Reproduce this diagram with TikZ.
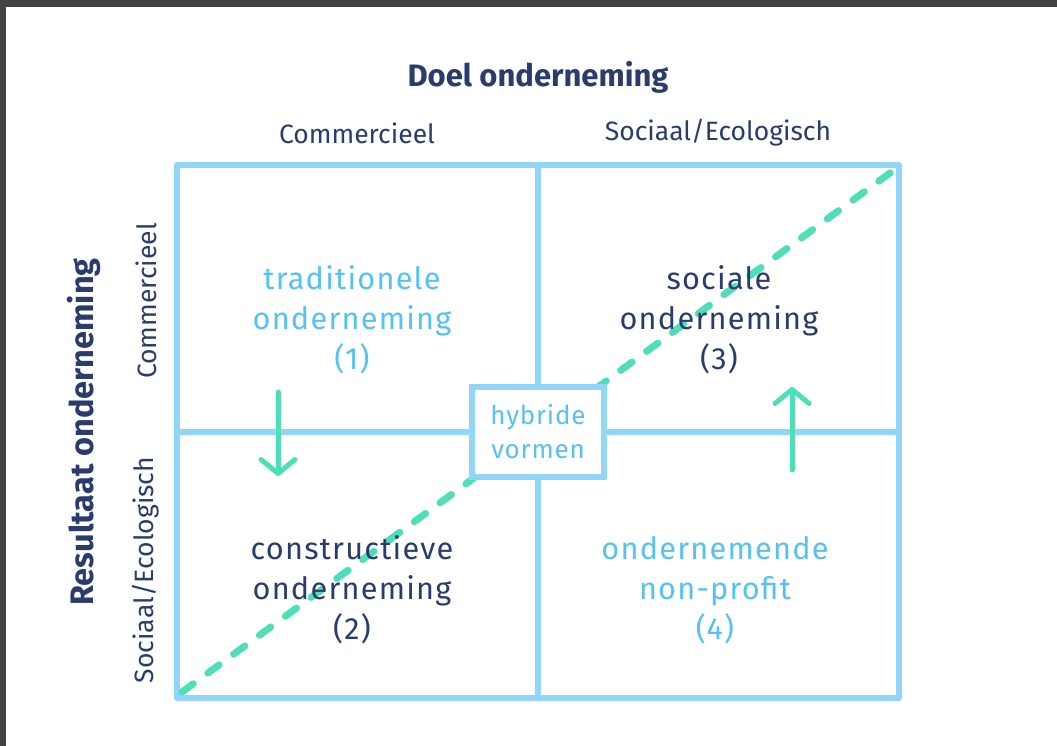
\documentclass[tikz,border=0pt]{standalone}
\usepackage{fontspec}
\setmainfont{Fira Sans}
\newfontfamily\qfont[LetterSpace=4]{Fira Sans}
\newfontfamily\hfont[LetterSpace=3]{Fira Sans}
\usetikzlibrary{arrows.meta}
\definecolor{navy}{HTML}{2A3B6E}
\definecolor{ltext}{HTML}{55C2F5}
\definecolor{lline}{HTML}{92D5FB}
\definecolor{grn}{HTML}{4DE0B8}
\definecolor{frame}{HTML}{424242}
\tikzset{
  grid/.style={draw=lline, line width=6pt, line cap=round, line join=round},
  quad/.style={align=center, font=\qfont\fontsize{30.7}{40}\selectfont, inner sep=0pt},
  axislbl/.style={font=\fontsize{26.5}{30}\selectfont, text=navy, inner sep=0pt},
  axistitle/.style={font=\bfseries\fontsize{31}{34}\selectfont, text=navy, inner sep=0pt},
  diag/.style={draw=grn, line width=7pt, line cap=round, dash pattern=on 14pt off 18pt},
  move/.style={draw=grn, line width=5pt, line cap=round, -{Straight Barb[length=14pt,width=34pt,round]}}
}
\begin{document}
\begin{tikzpicture}[x=1pt,y=1pt]
\useasboundingbox (0,0) rectangle (1057,746);
\fill[white] (0,0) rectangle (1057,746);
\fill[frame] (0,739) rectangle (1057,746);
\fill[frame] (0,0) rectangle (6,746);
% grid
\coordinate (bl) at (177,48);
\coordinate (tr) at (899,581);
\coordinate (mt) at (538,581);
\coordinate (mb) at (538,48);
\coordinate (ml) at (177,314);
\coordinate (mr) at (899,314);
\draw[grid] (bl) rectangle (tr);
\draw[grid] (mt) -- (mb);
\draw[grid] (ml) -- (mr);
% diagonal
\coordinate (d1) at (182,54);
\coordinate (d2) at (894,576);
\draw[diag] (d1) -- (d2);
% hybrid box
\node[draw=lline, line width=6pt, fill=white, minimum width=132pt, minimum height=90pt, align=center,
  text=ltext, font=\hfont\fontsize{26}{34}\selectfont, inner sep=0pt] (hyb) at (538,314) {hybride\\vormen};
% titles
\node[axistitle] (tt) at (538,669) {Doel onderneming};
\node[axislbl] (tc) at (357,613) {Commercieel};
\node[axislbl] (ts) at (718,613) {Sociaal/Ecologisch};
\node[axistitle, font=\bfseries\fontsize{32.5}{34}\selectfont, rotate=90] (lt) at (84,314) {Resultaat onderneming};
\node[axislbl, rotate=90] (lc) at (146,445) {Commercieel};
\node[axislbl, rotate=90] (ls) at (146,176) {Sociaal/Ecologisch};
% quadrants
\node[quad, text=ltext] (q1) at (352,426) {traditionele\\onderneming\\(1)};
\node[quad, text=navy] (q3) at (719,426) {sociale\\onderneming\\(3)};
\node[quad, text=navy] (q2) at (352,156) {constructieve\\onderneming\\(2)};
\node[quad, text=ltext] (q4) at (715,156) {ondernemende\\non-profit\\(4)};
% arrows
\coordinate (a1s) at (278,354);
\coordinate (a1e) at (278,270);
\coordinate (a2s) at (792,276);
\coordinate (a2e) at (792,359);
\draw[move] (a1s) -- (a1e);
\draw[move] (a2s) -- (a2e);
\end{tikzpicture}
\end{document}
